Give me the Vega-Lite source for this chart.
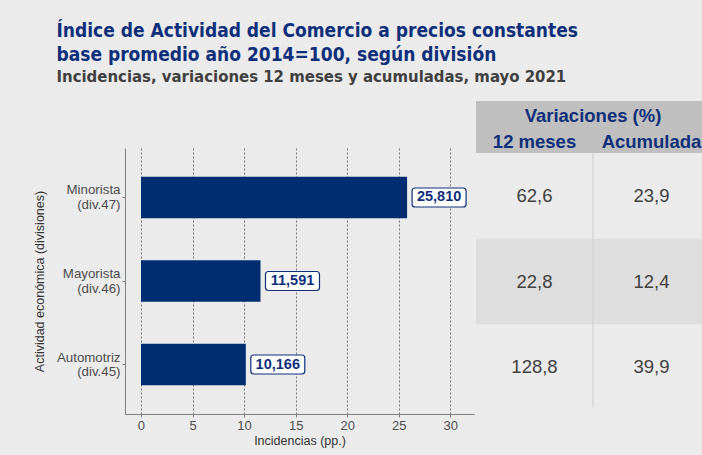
{
  "$schema": "https://vega.github.io/schema/vega-lite/v6.json",
  "width": 349,
  "height": 266,
  "background": "#ebebeb",
  "padding": {"left": 33, "top": 22, "right": 0, "bottom": 8},
  "title": {
    "text": ["Índice de Actividad del Comercio a precios constantes", "base promedio año 2014=100, según división"],
    "subtitle": "Incidencias, variaciones 12 meses y acumuladas, mayo 2021",
    "anchor": "start",
    "frame": "bounds",
    "dx": 23,
    "offset": 15,
    "font": "DejaVu Sans Condensed",
    "fontSize": 19,
    "fontWeight": "bold",
    "color": "#0f2f7a",
    "lineHeight": 24,
    "subtitleFont": "DejaVu Sans Condensed",
    "subtitleFontSize": 16.6,
    "subtitleFontWeight": "bold",
    "subtitleColor": "#404040",
    "subtitlePadding": 4
  },
  "config": {
    "view": {"stroke": null},
    "font": "Liberation Sans",
    "locale": {"number": {"decimal": ",", "thousands": ".", "grouping": [3], "currency": ["$", ""]}}
  },
  "datasets": {
    "bars": [
      {"division": "Minorista|(div.47)", "incidencia": 25.81},
      {"division": "Mayorista|(div.46)", "incidencia": 11.591},
      {"division": "Automotriz|(div.45)", "incidencia": 10.166}
    ],
    "table": [
      {"division": "Minorista", "row": 1, "col": 1, "value": 62.6},
      {"division": "Minorista", "row": 1, "col": 2, "value": 23.9},
      {"division": "Mayorista", "row": 2, "col": 1, "value": 22.8},
      {"division": "Mayorista", "row": 2, "col": 2, "value": 12.4},
      {"division": "Automotriz", "row": 3, "col": 1, "value": 128.8},
      {"division": "Automotriz", "row": 3, "col": 2, "value": 39.9}
    ],
    "header": [
      {"label": "12 meses", "col": 1},
      {"label": "Acumulada", "col": 2}
    ]
  },
  "layer": [
    {
      "data": {"name": "bars"},
      "encoding": {
        "y": {
          "field": "division",
          "type": "nominal",
          "sort": null,
          "title": "Actividad económica (divisiones)",
          "scale": {"paddingInner": 0.503, "paddingOuter": 0.344},
          "axis": {
            "labelExpr": "split(datum.label, '|')",
            "labelFont": "Liberation Sans",
            "labelFontSize": 13.3,
            "labelLineHeight": 14.5,
            "labelOffset": -7,
            "labelColor": "#4d4d4d",
            "domainColor": "#7f7f7f",
            "tickColor": "#7f7f7f",
            "tickSize": 3,
            "labelPadding": 2,
            "titleFont": "Liberation Sans",
            "titleFontSize": 12.5,
            "titleFontWeight": "normal",
            "titleColor": "#333333",
            "titlePadding": 10,
            "grid": false
          }
        },
        "x": {
          "field": "incidencia",
          "type": "quantitative",
          "title": "Incidencias (pp.)",
          "scale": {"domain": [-1.55, 32.3], "nice": false, "zero": false},
          "axis": {
            "values": [0, 5, 10, 15, 20, 25, 30],
            "format": "d",
            "grid": true,
            "gridColor": "#555555",
            "gridDash": [2, 2],
            "gridWidth": 0.8,
            "domainColor": "#7f7f7f",
            "tickColor": "#7f7f7f",
            "tickSize": 3,
            "labelFont": "Liberation Sans",
            "labelFontSize": 13,
            "labelColor": "#4d4d4d",
            "labelPadding": 2,
            "titleFont": "Liberation Sans",
            "titleFontSize": 12.5,
            "titleFontWeight": "normal",
            "titleColor": "#333333",
            "titlePadding": 2
          }
        }
      },
      "layer": [
        {
          "mark": {"type": "bar", "color": "#002d72"},
          "encoding": {"x2": {"datum": 0}}
        },
        {
          "mark": {
            "type": "point",
            "shape": "M-24,-9.5L24,-9.5Q27,-9.5 27,-6.5L27,6.5Q27,9.5 24,9.5L-24,9.5Q-27,9.5 -27,6.5L-27,-6.5Q-27,-9.5 -24,-9.5Z",
            "size": 4,
            "filled": true,
            "fill": "#ffffff",
            "stroke": "#0f2f7a",
            "strokeWidth": 1.2,
            "opacity": 1,
            "xOffset": 32
          }
        },
        {
          "mark": {
            "type": "text",
            "xOffset": 32,
            "font": "Liberation Sans",
            "fontWeight": "bold",
            "fontSize": 14.5,
            "color": "#0f2f7a",
            "align": "center",
            "baseline": "middle"
          },
          "encoding": {"text": {"field": "incidencia", "type": "quantitative", "format": ".3f"}}
        }
      ]
    },
    {
      "layer": [
        {
          "data": {"values": [{}]},
          "mark": {"type": "rect", "color": "#bfbfbf"},
          "encoding": {
            "x": {"datum": 0.5, "type": "quantitative", "scale": {"domain": [-2.5, 0.4829], "nice": false, "zero": false}, "axis": null},
            "x2": {"datum": 2.6},
            "y": {"datum": -0.107, "type": "quantitative", "scale": {"domain": [0.4416, 3.5466], "nice": false, "zero": false, "reverse": true}, "axis": null},
            "y2": {"datum": 0.5}
          }
        },
        {
          "data": {"values": [{}]},
          "mark": {"type": "rect", "color": "#dedede"},
          "encoding": {
            "x": {"datum": 0.5, "type": "quantitative", "axis": null},
            "x2": {"datum": 2.6},
            "y": {"datum": 1.5, "type": "quantitative", "axis": null},
            "y2": {"datum": 2.5}
          }
        },
        {
          "data": {"values": [{}]},
          "mark": {"type": "rule", "color": "#d0d0d0", "strokeWidth": 1.2},
          "encoding": {
            "x": {"datum": 1.5, "type": "quantitative", "axis": null},
            "y": {"datum": 0.5, "type": "quantitative", "axis": null},
            "y2": {"datum": 3.47}
          }
        },
        {
          "data": {"values": [{"label": "Variaciones (%)"}]},
          "mark": {"type": "text", "font": "Liberation Sans", "fontWeight": "bold", "fontSize": 18.5, "color": "#0f2f7a", "align": "center", "baseline": "middle"},
          "encoding": {
            "x": {"datum": 1.5, "type": "quantitative", "axis": null},
            "y": {"datum": 0.068, "type": "quantitative", "axis": null},
            "text": {"field": "label"}
          }
        },
        {
          "data": {"name": "header"},
          "mark": {"type": "text", "font": "Liberation Sans", "fontWeight": "bold", "fontSize": 18.5, "color": "#0f2f7a", "align": "center", "baseline": "middle"},
          "encoding": {
            "x": {"field": "col", "type": "quantitative", "axis": null},
            "y": {"datum": 0.372, "type": "quantitative", "axis": null},
            "text": {"field": "label"}
          }
        },
        {
          "data": {"name": "table"},
          "mark": {"type": "text", "font": "Liberation Sans", "fontSize": 18.5, "color": "#404040", "align": "center", "baseline": "middle"},
          "encoding": {
            "x": {"field": "col", "type": "quantitative", "axis": null},
            "y": {"field": "row", "type": "quantitative", "axis": null},
            "text": {"field": "value", "type": "quantitative", "format": ".1f"}
          }
        }
      ]
    }
  ],
  "resolve": {
    "scale": {"x": "independent", "y": "independent"},
    "axis": {"x": "independent", "y": "independent"}
  }
}
